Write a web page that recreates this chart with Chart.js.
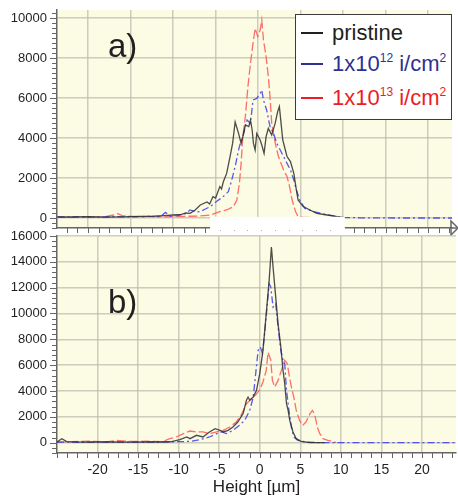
<!DOCTYPE html>
<html><head><meta charset="utf-8">
<script src="https://cdn.jsdelivr.net/npm/chart.js@4.4.1/dist/chart.umd.min.js"></script>
<style>
body{margin:0;background:#fff;}
#wrap{position:relative;width:458px;height:499px;overflow:hidden;font-family:"Liberation Sans",Arial,sans-serif;}
canvas{position:absolute;left:0;}
#cA{top:0;} #cB{top:228px;}
.panel{position:absolute;left:108px;font-size:33px;color:#231f20;line-height:1;}
#legend{position:absolute;left:295px;top:14px;width:157px;height:106px;border:1.5px solid #3a3a3a;background:#fff;box-sizing:border-box;}
.row{position:absolute;left:0;height:33px;display:flex;align-items:center;font-size:22px;white-space:nowrap;}
.sw{display:inline-block;width:22px;height:2px;margin-left:5px;margin-right:9px;}
sup{font-size:12px;vertical-align:0;position:relative;top:-9px;}
</style></head>
<body>
<div id="wrap">
<canvas id="cA" width="458" height="240"></canvas>
<canvas id="cB" width="458" height="271"></canvas>
<div class="panel" id="labA" style="top:29px">a)</div>
<div class="panel" id="labB" style="top:285px">b)</div>
<div id="legend"></div>
</div>
<script>
// ---------- data ----------
const seriesNames = ['pristine', '1x10^12 i/cm^2', '1x10^13 i/cm^2'];
const lineColors = ['rgba(45,45,45,0.85)', 'rgba(60,60,240,0.85)', 'rgba(255,85,85,0.85)'];
const legendColors = ['#231f20', '#2e3192', '#ed1c24'];
const lineDashes = [[], [7,3,2,3], [9,3]];
const panelLabels = ['a)', 'b)'];
const xTitle = 'Height [\u00b5m]';
const xTicks = [-20, -15, -10, -5, 0, 5, 10, 15, 20];
const yTicksA = [0, 2000, 4000, 6000, 8000, 10000];
const yTicksB = [0, 2000, 4000, 6000, 8000, 10000, 12000, 14000, 16000];

// panel a)
const aPristineX = [-23.6,-22,-20,-18,-16,-14,-12,-11,-10,-9,-8.5,-8,-7.4,-6.8,-6.0,-5.7,-5.3,-5.0,-4.5,-4.3,-4.1,-3.7,-3.3,-3.0,-2.7,-2.3,-2.0,-1.7,-1.5,-1.1,-0.9,-0.7,-0.55,-0.35,-0.16,0.24,0.43,0.7,0.94,1.2,1.6,2.0,2.3,2.5,2.7,2.9,3.2,3.4,3.8,4.2,4.5,4.7,5.3,6.1,6.9,8.1,9.3,10.2];
const aPristineY = [60,50,70,40,60,80,90,120,150,180,250,230,400,650,800,700,1070,1000,1570,1450,1800,2230,3070,3730,4800,4230,3730,4230,4650,4570,4900,4400,3730,3400,4230,3900,3650,3230,4070,4480,4150,4730,5320,5570,4730,3900,3400,3070,2820,2230,1400,900,570,400,230,150,70,20];
const aDose12X = [-23.6,-21,-19,-17,-15,-13,-11.5,-10.9,-10.3,-9.5,-8.6,-8,-7.2,-6.8,-6.2,-5.6,-4.9,-4.1,-3.5,-3.1,-2.7,-2.3,-2.1,-1.7,-1.3,-0.9,-0.6,-0.16,0.24,0.43,0.63,1.0,1.4,1.8,2.2,2.6,3.0,3.4,3.8,4.2,4.5,4.9,5.5,6.5,7.7,8.9,10,12,16,20,23];
const aDose12Y = [50,60,40,70,50,80,60,280,80,120,200,400,300,320,450,570,820,1070,1320,1900,2570,3400,3730,4230,4900,4730,5900,5980,6230,6400,5900,5400,4570,4230,3730,3400,3070,2730,2400,1900,1400,900,480,320,200,100,30,10,0,0,0];
const aDose13X = [-23.6,-20,-18,-17,-16.5,-16,-14,-12,-11,-9,-7,-5.6,-4.5,-3.7,-2.9,-2.5,-2.2,-2.0,-1.8,-1.5,-1.2,-0.9,-0.6,-0.35,-0.04,0.24,0.43,0.63,0.94,1.2,1.4,1.6,1.8,2.1,2.4,2.7,3.0,3.4,3.7,4.0,4.4,4.7,5.3,7,10];
const aDose13Y = [30,40,60,150,220,120,50,100,60,80,100,150,320,400,570,900,1730,2730,4070,5070,6570,7730,8730,9480,9070,9400,9900,8900,8070,7070,6070,4730,4230,3570,3070,2730,2400,2070,1570,900,320,70,30,20,0];

// panel b)
const bPristineX = [-25,-24.4,-23.8,-22,-20,-18,-16,-14,-12,-11,-9.85,-9.0,-8.6,-7.8,-7.0,-6.2,-5.5,-4.9,-4.5,-3.9,-3.3,-2.7,-2.05,-1.64,-1.44,-1.23,-0.8,-0.4,0,0.4,0.8,1.16,1.44,1.64,1.97,2.26,2.6,2.87,3.08,3.3,3.5,3.7,4.1,4.5,5.1,6.2,8];
const bPristineY = [50,300,80,40,60,50,40,60,50,70,230,440,310,570,440,830,1080,950,830,950,1210,1600,2250,3280,3530,3280,3530,4050,5340,7150,10000,12560,15150,13600,11270,9200,7400,5600,4570,3020,2500,1730,830,310,100,0,0];
const bDose12X = [-25,-22,-19,-16,-13,-11,-8.6,-7.4,-6.2,-5.3,-4.7,-4.1,-3.3,-2.5,-1.85,-1.23,-0.8,-0.5,-0.2,0.08,0.33,0.6,0.9,1.16,1.36,1.64,1.97,2.26,2.6,2.87,3.08,3.3,3.6,3.9,4.2,4.7,5.7,7,10,15,20,24.2];
const bDose12Y = [50,30,50,40,50,60,100,230,440,700,830,700,950,1340,1730,2500,3530,5340,7150,7400,6890,8440,10500,12300,12050,10500,10760,8950,7150,6370,6110,4050,2500,1210,440,180,50,10,0,0,0,0];
const bDose13X = [-25,-23,-21,-19,-17.6,-16,-14,-12,-11.1,-10.3,-9.4,-8.6,-7.8,-7.0,-6.2,-5.3,-4.5,-3.7,-2.9,-2.3,-1.64,-1.03,-0.5,0,0.4,0.8,1.03,1.36,1.56,1.85,2.26,2.67,3.08,3.4,3.6,3.9,4.2,4.5,4.9,5.3,5.7,6.2,6.5,6.8,7.1,7.4,7.8,8.4,9.0,9.4];
const bDose13Y = [30,80,120,60,170,90,110,80,310,440,700,900,830,830,700,830,950,1210,1600,2120,3000,3400,3700,4100,4700,5600,7000,6400,4820,4310,4820,5600,6370,6110,5340,4310,3530,2500,1730,1340,1600,2250,2500,2120,1210,700,310,180,100,0];

// ---------- helpers ----------
const toPts = (xs, ys) => xs.map((x, i) => ({x: x, y: ys[i]}));
const supMap = {'0':'\u2070','1':'\u00b9','2':'\u00b2','3':'\u00b3','4':'\u2074','5':'\u2075','6':'\u2076','7':'\u2077','8':'\u2078','9':'\u2079'};
const plainLabel = s => s.replace(/\^(\d+)/g, (m, d) => d.split('').map(c => supMap[c]).join(''));
const htmlLabel = s => s.replace(/\^(\d+)/g, '<sup>$1</sup>');

Chart.defaults.font.family = '"Liberation Sans", Arial, sans-serif';
Chart.defaults.color = '#231f20';

// legend (HTML, built from the series names)
const legendEl = document.getElementById('legend');
const rowTops = [1, 32, 66];
seriesNames.forEach((n, i) => {
  const r = document.createElement('div');
  r.className = 'row';
  r.style.top = rowTops[i] + 'px';
  r.style.color = legendColors[i];
  r.innerHTML = '<span class="sw" style="background:' + legendColors[i] + '"></span><span>' + htmlLabel(n) + '</span>';
  legendEl.appendChild(r);
});
document.getElementById('labA').textContent = panelLabels[0];
document.getElementById('labB').textContent = panelLabels[1];

const gridColor = 'rgba(190,190,176,0.75)';
const axisColor = '#666';
const bgColor = '#fcfbe3';

const decor = {
  id: 'decor',
  beforeDraw(chart, args, o) {
    const {ctx, chartArea: a} = chart;
    ctx.save();
    ctx.fillStyle = bgColor;
    ctx.fillRect(a.left, a.top, a.right - a.left, a.bottom - a.top);
    ctx.restore();
  },
  afterDraw(chart, args, o) {
    const {ctx, chartArea: a, scales: {x, y}} = chart;
    ctx.save();
    ctx.strokeStyle = axisColor;
    ctx.lineWidth = 1;
    let k0 = Math.ceil(y.min / o.yMinor);
    for (let k = k0; k * o.yMinor <= y.max + 1e-6; k++) {
      const v = k * o.yMinor;
      const p = Math.round(y.getPixelForValue(v)) + 0.5;
      const major = v % o.yMajor === 0;
      ctx.beginPath(); ctx.moveTo(a.left - (major ? 7 : 5), p); ctx.lineTo(a.left, p); ctx.stroke();
    }
    k0 = Math.ceil(x.min / o.xMinor);
    for (let k = k0; k * o.xMinor <= x.max + 1e-6; k++) {
      const v = k * o.xMinor;
      const p = Math.round(x.getPixelForValue(v)) + 0.5;
      ctx.beginPath(); ctx.moveTo(p, a.bottom); ctx.lineTo(p, a.bottom + 5); ctx.stroke();
    }
    if (o.arrow) {
      const yb = a.bottom;
      ctx.lineWidth = 1.5;
      ctx.beginPath(); ctx.moveTo(a.right, yb); ctx.lineTo(a.right + 5, yb); ctx.stroke();
      ctx.beginPath(); ctx.moveTo(a.right - 1, yb - 7); ctx.lineTo(a.right + 6, yb); ctx.lineTo(a.right - 1, yb + 7); ctx.closePath(); ctx.stroke();
    }
    if (o.patch) {
      const l = x.getPixelForValue(o.patch[0]), r = x.getPixelForValue(o.patch[1]);
      const t = y.getPixelForValue(o.patch[2]);
      ctx.fillStyle = '#ffffff';
      ctx.fillRect(l, t, r - l, a.bottom + 8 - t);
      ctx.fillStyle = 'rgba(120,120,120,0.6)';
      for (let px = l + 10; px < r - 4; px += 13.7) ctx.fillRect(Math.round(px), a.bottom + 2, 1, 1);
    }
    ctx.restore();
  }
};

function makeDatasets(xsList, ysList) {
  return xsList.map((xs, i) => ({
    label: plainLabel(seriesNames[i]),
    data: toPts(xs, ysList[i]),
    borderColor: lineColors[i],
    borderWidth: 1.3,
    borderDash: lineDashes[i],
    pointRadius: 0,
    pointHoverRadius: 0,
    pointHitRadius: 0,
    tension: 0,
    fill: false
  }));
}

function axisX(min, max, dims, showLabels) {
  return {
    type: 'linear', min: min, max: max,
    afterBuildTicks: s => { s.ticks = xTicks.map(v => ({value: v})); },
    afterFit: s => { s.height = dims.h; },
    ticks: {display: showLabels, padding: 0, font: {size: 14}, color: '#231f20', callback: v => String(v)},
    grid: {color: gridColor, lineWidth: 1.5, drawTicks: true, tickLength: 9, tickColor: 'rgba(0,0,0,0)'},
    border: {display: true, color: axisColor, width: 1.5},
    title: showLabels ? {display: true, text: xTitle, font: {size: 17}, color: '#231f20', padding: {top: 0, bottom: 1}} : {display: false}
  };
}
function axisY(min, max, ticksArr) {
  return {
    type: 'linear', min: min, max: max,
    afterBuildTicks: s => { s.ticks = ticksArr.map(v => ({value: v})); },
    afterFit: s => { s.width = 57; },
    ticks: {padding: 0, font: {size: 13}, color: '#231f20', callback: v => String(v)},
    grid: {color: gridColor, lineWidth: 1.5, drawTicks: true, tickLength: 10, tickColor: 'rgba(0,0,0,0)'},
    border: {display: true, color: axisColor, width: 1.5}
  };
}

// nudge the plot areas to where the reference has them
function fitArea(chart, pad, dims, target) {
  for (let i = 0; i < 3; i++) {
    const a = chart.chartArea;
    const dt = target.top - a.top, dr = a.right - target.right, db = a.bottom - target.bottom;
    if (Math.abs(dt) < 0.3 && Math.abs(dr) < 0.3 && Math.abs(db) < 0.3) break;
    pad.top = Math.max(0, pad.top + dt);
    pad.right = Math.max(0, pad.right + dr);
    dims.h = Math.max(0, dims.h + db);
    chart.update();
  }
}

const padA = {top: 10, right: 6, left: 0, bottom: 0};
const dimsA = {h: 12};
const chartA = new Chart(document.getElementById('cA'), {
  type: 'line',
  data: {datasets: makeDatasets([aPristineX, aDose12X, aDose13X], [aPristineY, aDose12Y, aDose13Y])},
  options: {
    responsive: false, animation: false, devicePixelRatio: 1,
    layout: {autoPadding: false, padding: padA},
    plugins: {legend: {display: false}, tooltip: {enabled: false},
      decor: {xMinor: 1.25, yMinor: 250, yMajor: 2000, arrow: true, patch: [-5.65, 10.2, 60]}},
    scales: {x: axisX(-23.65, 22.8, dimsA, false), y: axisY(-500, 10400, yTicksA)}
  },
  plugins: [decor]
});
fitArea(chartA, padA, dimsA, {top: 10, bottom: 228, right: 452});

const padB = {top: 8, right: 2, left: 0, bottom: 0};
const dimsB = {h: 46};
const chartB = new Chart(document.getElementById('cB'), {
  type: 'line',
  data: {datasets: makeDatasets([bPristineX, bDose12X, bDose13X], [bPristineY, bDose12Y, bDose13Y])},
  options: {
    responsive: false, animation: false, devicePixelRatio: 1,
    layout: {autoPadding: false, padding: padB},
    plugins: {legend: {display: false}, tooltip: {enabled: false},
      decor: {xMinor: 1.25, yMinor: 400, yMajor: 2000, arrow: false, patch: null}},
    scales: {x: axisX(-25, 24.2, dimsB, true), y: axisY(-800, 16000, yTicksB)}
  },
  plugins: [decor]
});
fitArea(chartB, padB, dimsB, {top: 8, bottom: 225, right: 456});
</script>
</body></html>
